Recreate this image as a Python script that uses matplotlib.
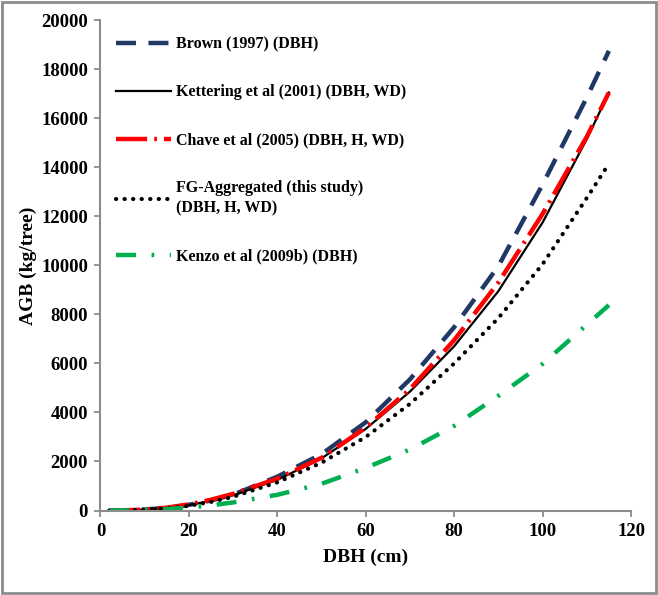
import matplotlib.pyplot as plt
from matplotlib.patches import Rectangle

dbh = [2, 5, 10, 15, 20, 25, 30, 40, 50, 60, 70, 80, 90, 100, 110, 115]

brown = [0.7, 7, 40, 110, 232, 410, 646, 1380, 2300, 3600, 5350, 7480, 9970, 13300, 16850, 18750]
kettering = [0.5, 6, 35, 105, 220, 400, 620, 1250, 2130, 3330, 4850, 6700, 8950, 11750, 15150, 17050]
chave = [0.5, 6, 38, 115, 250, 440, 680, 1300, 2150, 3380, 4950, 6950, 9300, 12100, 15250, 17050]
fg_agg = [0.4, 5, 30, 90, 190, 350, 560, 1150, 1950, 3000, 4350, 6000, 7850, 10050, 12750, 14150]
kenzo = [0.3, 4, 22, 60, 120, 210, 330, 640, 1090, 1740, 2490, 3450, 4680, 5980, 7580, 8380]

xticks = [0, 20, 40, 60, 80, 100, 120]
yticks = list(range(0, 20001, 2000))

plt.rcParams['font.family'] = ['Liberation Serif', 'DejaVu Serif']
plt.rcParams['font.weight'] = 'bold'

fig = plt.figure(figsize=(6.58, 5.95), dpi=100)
ax = fig.add_axes([0.1527, 0.142, 0.8063, 0.824])

ax.plot(dbh, brown, color='#1f3864', lw=3.2, dashes=(4.5, 2.8),
        label='Brown (1997) (DBH)')
ax.plot(dbh, kettering, color='black', lw=1.6,
        label='Kettering et al (2001) (DBH, WD)')
ax.plot(dbh, chave, color='#ff0000', lw=3.2, dashes=(7, 1.6, 0.6, 1.6),
        label='Chave et al (2005) (DBH, H, WD)')
ax.plot(dbh, fg_agg, color='black', lw=3.0, dashes=(0.05, 2.0),
        dash_capstyle='round',
        label='FG-Aggregated (this study)\n(DBH, H, WD)')
ax.plot(dbh, kenzo, color='#00b050', lw=3.2, dashes=(4.5, 3.5, 0.6, 3.5),
        label='Kenzo et al (2009b) (DBH)')

ax.set_xlim(0, 120)
ax.set_ylim(0, 20000)
ax.set_xticks(xticks)
ax.set_yticks(yticks)

for side in ['top', 'right']:
    ax.spines[side].set_visible(False)
for side in ['left', 'bottom']:
    ax.spines[side].set_color('#8c8c8c')
    ax.spines[side].set_linewidth(1.5)
ax.tick_params(direction='out', length=4, width=1.3, color='#8c8c8c',
               labelsize=13.5, pad=5)
for lab in ax.get_xticklabels() + ax.get_yticklabels():
    lab.set_fontweight('bold')

ax.set_xlabel('DBH (cm)', fontsize=14, fontweight='bold', labelpad=6)
ax.set_ylabel('AGB (kg/tree)', fontsize=14, fontweight='bold', labelpad=3)

leg = ax.legend(loc='upper left', bbox_to_anchor=(0.0, 1.0), frameon=False,
                handlelength=3.4, handletextpad=0.35, borderaxespad=0.6,
                labelspacing=2.0, prop={'weight': 'bold', 'size': 11.5})
leg.get_texts()[3].set_linespacing(1.35)

# grey frame round the whole picture
fig.patches.append(Rectangle((0.003, 0.003), 0.994, 0.994, transform=fig.transFigure,
                             fill=False, edgecolor='#8c8c8c', lw=2))

fig.savefig('out.png', dpi=100)
